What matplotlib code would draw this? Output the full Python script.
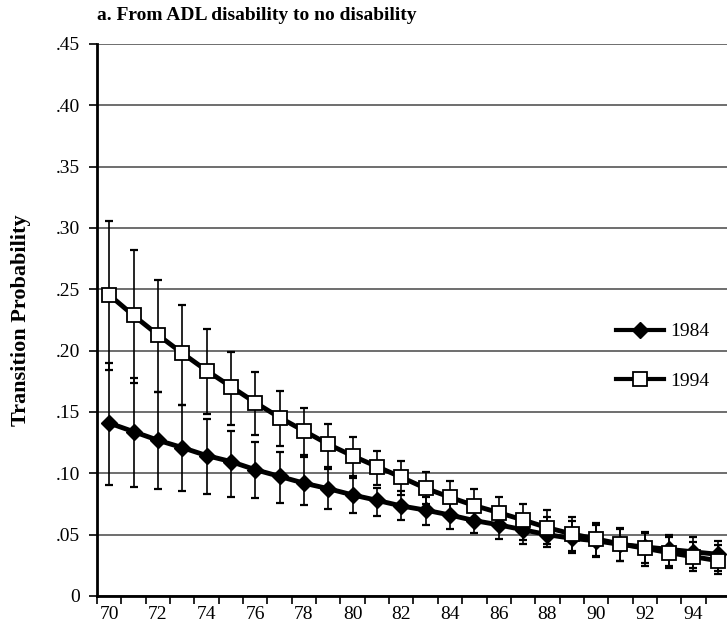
import matplotlib
matplotlib.use("Agg")
import matplotlib.pyplot as plt
import numpy as np
from matplotlib.ticker import FixedLocator, FuncFormatter

ages = list(range(70, 96))

p1984 = [0.141, 0.134, 0.127, 0.121, 0.1145, 0.1096, 0.103, 0.0975, 0.092, 0.0875,
         0.0824, 0.078, 0.0734, 0.070, 0.066, 0.0615, 0.058, 0.054, 0.050, 0.047,
         0.045, 0.042, 0.040, 0.038, 0.036, 0.034]
hi1984 = [0.190, 0.1775, 0.166, 0.156, 0.1444, 0.1346, 0.1259, 0.1175, 0.1136, 0.1033,
          0.0965, 0.088, 0.086, 0.081, 0.0776, 0.072, 0.069, 0.065, 0.0647, 0.0614,
          0.058, 0.055, 0.051, 0.0498, 0.048, 0.045]
lo1984 = [0.0905, 0.089, 0.087, 0.086, 0.083, 0.081, 0.0797, 0.0761, 0.074, 0.071,
          0.068, 0.065, 0.062, 0.058, 0.0544, 0.051, 0.0462, 0.042, 0.040, 0.035,
          0.032, 0.0288, 0.0272, 0.0245, 0.0226, 0.0207]

p1994 = [0.2455, 0.2287, 0.2129, 0.198, 0.1838, 0.1707, 0.1577, 0.1455, 0.1346, 0.1237,
         0.1142, 0.1055, 0.0968, 0.0878, 0.0805, 0.0737, 0.068, 0.062, 0.0557, 0.0506,
         0.0465, 0.0424, 0.0389, 0.0353, 0.032, 0.0288]
hi1994 = [0.306, 0.282, 0.258, 0.237, 0.218, 0.199, 0.1825, 0.1675, 0.1531, 0.1406,
          0.1294, 0.1186, 0.110, 0.1014, 0.094, 0.087, 0.0805, 0.0748, 0.070, 0.0647,
          0.0598, 0.0552, 0.0525, 0.0484, 0.044, 0.0416]
lo1994 = [0.184, 0.174, 0.166, 0.156, 0.1485, 0.1395, 0.1313, 0.1224, 0.115, 0.1055,
          0.098, 0.0905, 0.0824, 0.075, 0.067, 0.061, 0.0555, 0.0457, 0.0424, 0.0367,
          0.033, 0.0288, 0.0247, 0.0226, 0.0204, 0.018]

y_ticks = [0, 0.05, 0.10, 0.15, 0.20, 0.25, 0.30, 0.35, 0.40, 0.45]
x_labels = list(range(70, 95, 2))
series_labels = ["1984", "1994"]
title = "a. From ADL disability to no disability"
ylabel = "Transition Probability"

plt.rcParams['font.family'] = ['Liberation Serif', 'DejaVu Serif']

fig = plt.figure(figsize=(7.27, 6.28), dpi=100)
ax = fig.add_axes([97/727, 32/628, 633/727, 552/628])

x = np.array(ages)
a84 = np.array(p1984); a94 = np.array(p1994)
ax.errorbar(x, a84, yerr=[a84 - np.array(lo1984), np.array(hi1984) - a84], fmt='none',
            ecolor='black', elinewidth=1.2, capsize=3, capthick=1.6, zorder=3)
ax.errorbar(x, a94, yerr=[a94 - np.array(lo1994), np.array(hi1994) - a94], fmt='none',
            ecolor='black', elinewidth=1.2, capsize=3, capthick=1.6, zorder=3)
ax.plot(x, a84, color='black', lw=3.5, marker='D', markersize=8.5,
        markerfacecolor='black', markeredgecolor='black', label=series_labels[0], zorder=4)
ax.plot(x, a94, color='black', lw=3.5, marker='s', markersize=10.5,
        markerfacecolor='white', markeredgecolor='black', markeredgewidth=1.3,
        label=series_labels[1], zorder=5)

ax.set_xlim(69.5, 95.5)
ax.set_ylim(0, 0.45)
ax.set_yticks(y_ticks)
ax.yaxis.set_major_formatter(FuncFormatter(lambda v, p: "0" if abs(v) < 1e-9 else ("%.2f" % v)[1:]))
ax.yaxis.grid(True, color='#555555', lw=1.2)
ax.set_axisbelow(True)
ax.tick_params(axis='y', length=6, width=1.2, labelsize=14, pad=6, color='black')

ax.set_xticks(x_labels)
ax.set_xticklabels([str(v) for v in x_labels])
ax.xaxis.set_minor_locator(FixedLocator(np.arange(69.5, 96, 1)))
ax.tick_params(axis='x', which='major', length=0, labelsize=14, pad=7)
ax.tick_params(axis='x', which='minor', length=6, width=1.2)

for s in ['top', 'right']:
    ax.spines[s].set_visible(False)
ax.spines['left'].set_linewidth(2)
ax.spines['bottom'].set_linewidth(2)

fig.text(97/727, 1 - 16/628, title, fontsize=14, fontweight='bold', ha='left', va='center')
fig.text(21/727, 1 - 320/628, ylabel, fontsize=16, fontweight='bold', rotation=90,
         ha='center', va='center')

leg = ax.legend(loc='center left', bbox_to_anchor=(0.792, 0.434), frameon=False,
                fontsize=14, handlelength=2.5, handletextpad=0.3, labelspacing=1.65,
                numpoints=1, markerscale=0.9)
for h in leg.get_lines():
    h.set_linewidth(3)

fig.savefig("out.png", dpi=100)
